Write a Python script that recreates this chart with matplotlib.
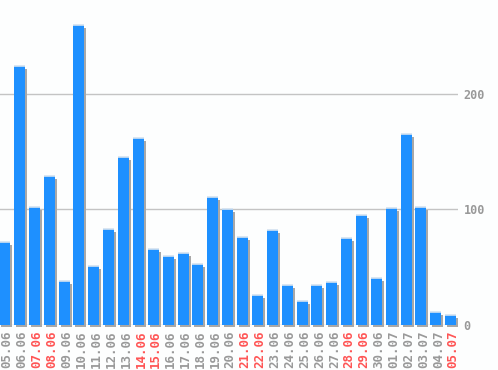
import matplotlib
matplotlib.use("Agg")
import matplotlib.pyplot as plt
import numpy as np

# data
dates = ["05.06", "06.06", "07.06", "08.06", "09.06", "10.06", "11.06", "12.06",
         "13.06", "14.06", "15.06", "16.06", "17.06", "18.06", "19.06", "20.06",
         "21.06", "22.06", "23.06", "24.06", "25.06", "26.06", "27.06", "28.06",
         "29.06", "30.06", "01.07", "02.07", "03.07", "04.07", "05.07"]
values = [72, 224, 102, 129, 38, 259, 51, 83, 145, 162, 66, 60, 62, 53, 111, 100,
          76, 26, 82, 35, 21, 35, 37, 75, 95, 41, 101, 165, 102, 11, 9]
weekend = ["07.06", "08.06", "14.06", "15.06", "21.06", "22.06", "28.06", "29.06", "05.07"]
yticks = [0, 100, 200]

bg = "#fdfefe"
blue = "#1e90ff"
shadow = "#a8a8a8"
grey_txt = "#999999"
red_txt = "#ff5555"

fig = plt.figure(figsize=(4.98, 3.70), dpi=100, facecolor=bg)
ax = fig.add_axes([0, 45 / 370, 458 / 498, 325 / 370])
ax.set_facecolor(bg)

x = np.arange(len(values))
w = 0.74
px = 1 / 14.87      # one pixel in x data units
py = 1 / 1.155      # one pixel in y data units

ax.set_xlim(-0.31, 30.49)
ax.set_ylim(0, 281)

for yv in yticks:
    ax.axhline(yv, color="#c4c4c4", lw=1, zorder=0)

vals = np.array(values)
ax.bar(x + 2 * px, vals - 1.5 * py, width=w, bottom=-1.5 * py, color=shadow, zorder=1,
       clip_on=False)
ax.bar(x, vals, width=w, color=blue, zorder=2)
ax.hlines(vals, x - w / 2, x + w / 2, color="#d4e2f0", lw=1.2, zorder=3)

for s in ax.spines.values():
    s.set_visible(False)

# labels sit a little right of the bar centres, as in the original
ax.set_xticks(x + 2.5 * px)
ax.set_xticklabels(dates, rotation=90, family="DejaVu Sans Mono", fontsize=9,
                   fontweight="bold")
for lab in ax.get_xticklabels():
    lab.set_color(red_txt if lab.get_text() in weekend else grey_txt)
ax.tick_params(axis="x", length=0, pad=4)

ax.yaxis.tick_right()
ax.set_yticks(yticks)
ax.set_yticklabels([str(v) for v in yticks], family="DejaVu Sans Mono", fontsize=8.5,
                   fontweight="bold", color=grey_txt)
ax.tick_params(axis="y", length=0, pad=4)

fig.savefig("out.png", dpi=100, facecolor=bg)
